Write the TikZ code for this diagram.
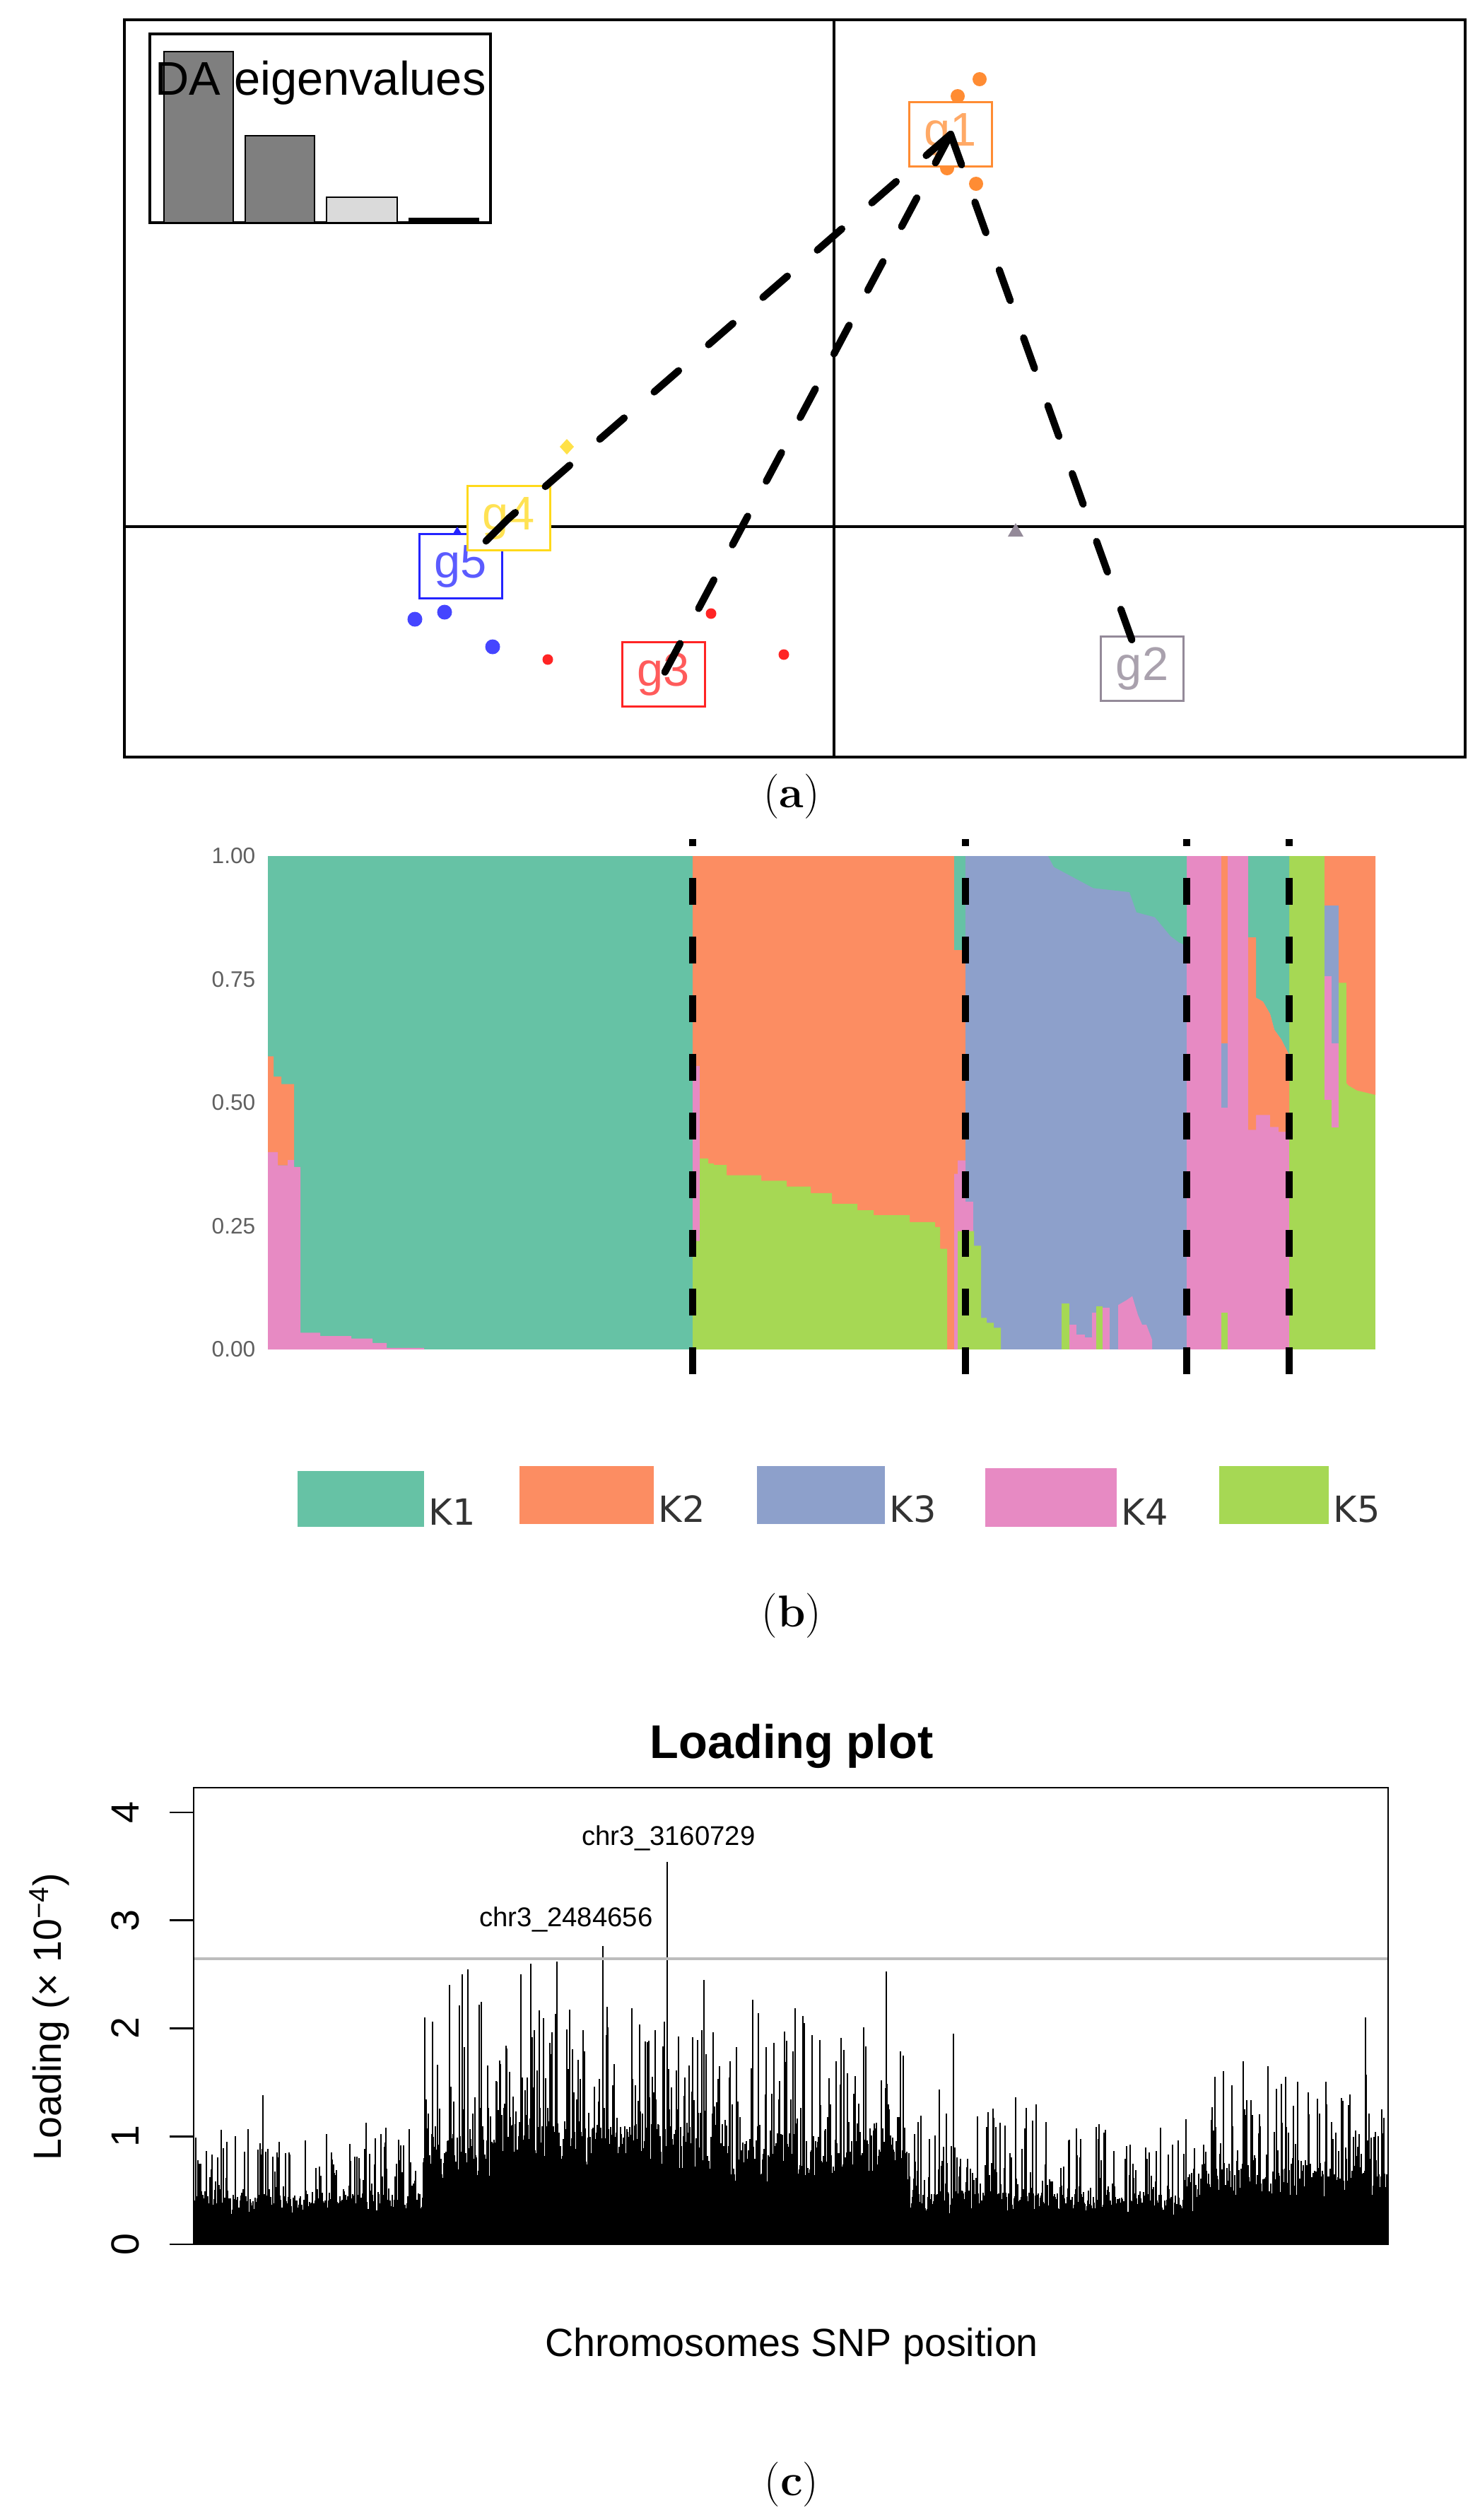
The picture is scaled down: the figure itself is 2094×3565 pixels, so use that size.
\documentclass[tikz,border=0pt]{standalone}
\usepackage{fontspec}
\usepackage{amsmath}
\usepackage{tikz}
\newfontfamily\plotfont{Liberation Sans}
\newfontfamily\legfont{DejaVu Sans}
\definecolor{kone}{HTML}{66C2A5}
\definecolor{ktwo}{HTML}{FC8D62}
\definecolor{kthree}{HTML}{8DA0CB}
\definecolor{kfour}{HTML}{E78AC3}
\definecolor{kfive}{HTML}{A6D854}
\definecolor{gone}{HTML}{FF8C33}
\definecolor{gtwo}{HTML}{948A99}
\definecolor{gthree}{HTML}{FF2424}
\definecolor{gfour}{HTML}{FFD91A}
\definecolor{gfive}{HTML}{2424FF}
\definecolor{eigdark}{HTML}{7F7F7F}
\definecolor{eiglight}{HTML}{DADADA}
\definecolor{thrgrey}{HTML}{BDBDBD}
\definecolor{tickgrey}{HTML}{5F5F5F}

\begin{document}
\begin{tikzpicture}[x=0.01cm, y=-0.01cm,
		grp/.style={draw, fill=white, line width=1.1pt, minimum width=1.17cm, minimum height=0.91cm, inner sep=0pt, font=\plotfont\fontsize{19}{19}\selectfont},
		mst/.style={line width=2.9pt, dash pattern=on 13pt off 16pt, line cap=round},
		cut/.style={line width=2.8pt, dash pattern=on 10.8pt off 12.8pt, dash phase=8pt},
		bar/.style={line width=0.33pt},
		panel/.style={inner sep=0pt, font=\fontsize{18}{18}\selectfont},
		axlab/.style={inner sep=0pt, font=\plotfont\fontsize{15.8}{16}\selectfont}]
	\fill[white] (0,0) rectangle (2094,3565);
	\useasboundingbox (0,0) rectangle (2094,3565);

	% (a) scatter
	\draw[line width=1.1pt] (1180,28) -- (1180,1071);
	\draw[line width=1.1pt] (176,745) -- (2073,745);
	\draw[line width=1.4pt] (176,28) rectangle (2073,1071);
	\draw[line width=1.1pt, fill=white] (212,48) rectangle (694,315);
	\draw[line width=0.8pt, fill=eigdark] (232,315) rectangle (330,73);
	\draw[line width=0.8pt, fill=eigdark] (347,315) rectangle (445,192);
	\draw[line width=0.8pt, fill=eiglight] (462,315) rectangle (562,279);
	\draw[line width=0.8pt, fill=black] (579,315) rectangle (677,309);
	\node[anchor=base west, inner sep=0pt, font=\plotfont\fontsize{19}{19}\selectfont] (eig) at (219,134) {DA eigenvalues};

	\foreach \px/\py in {1386/112, 1355/136, 1340/238, 1381/260}
		\fill[gone] (\px,\py) circle (0.1cm);
	\foreach \px/\py in {587/876, 629/866, 697/915}
		\fill[gfive!85] (\px,\py) circle (0.105cm);
	\foreach \px/\py in {1006/868, 1109/926, 775/933}
		\fill[gthree] (\px,\py) circle (0.075cm);
	\fill[gfour!80] (802,621) -- (812,632) -- (802,643) -- (792,632) -- cycle;
	\fill[gtwo] (1437,740) -- (1448,759) -- (1426,759) -- cycle;
	\fill[gfive] (647,745) -- (656,760) -- (638,760) -- cycle;

	\node[grp, draw=gone, text=gone!75] (g1) at (1345,190) {g1};
	\node[grp, draw=gtwo, text=gtwo!80] (g2) at (1616,946) {g2};
	\node[grp, draw=gthree, text=gthree!75] (g3) at (939,954) {g3};
	\node[grp, draw=gfive, text=gfive!75] (g5) at (652,801) {g5};
	\node[grp, draw=gfour, text=gfour!75] (g4) at (720,733) {g4};

	\draw[mst] (g1.center) -- (g4.center);
	\draw[mst] (g4.center) -- (g5.center);
	\draw[mst] (g1.center) -- (g3.center);
	\draw[mst] (g1.center) -- (g2.center);

	\node[panel] (laba) at (1120,1127) {(\textbf{a})};

	% (b) membership bars
	\begin{scope}[shift={(0,1909)}, yscale=-698]
		\fill[kone] (379,0) rectangle (980,1);
		\fill[ktwo] (980,0) rectangle (1366,1);
		\fill[kthree] (1366,0) rectangle (1679,1);
		\fill[kfour] (1679,0) rectangle (1824,1);
		\fill[kfive] (1824,0) rectangle (1946,1);

		\fill[ktwo] (379,.40) -- (379,.594) -- (387,.594) -- (387,.553) -- (398,.553) -- (398,.538) -- (416,.538) -- (416,.384) -- (407,.384) -- (407,.373) -- (393,.373) -- (393,.40) -- cycle;
		\fill[kfour] (379,0) -- (379,.40) -- (393,.40) -- (393,.373) -- (407,.373) -- (407,.384) -- (416,.384) -- (416,.37) -- (425,.37) -- (425,.034) -- (453,.034) -- (453,.027) -- (497,.027) -- (497,.022) -- (527,.022) -- (527,.013) -- (547,.013) -- (547,.003) -- (600,.003) -- (600,0) -- cycle;

		\fill[kfour] (980,.22) rectangle (990,.574);
		\fill[kfive] (980,0) -- (980,.22) -- (990,.22) -- (990,.387) -- (1002,.387) -- (1002,.377) -- (1010,.377) -- (1010,.374) -- (1028,.374) -- (1028,.353) -- (1077,.353) -- (1077,.342) -- (1113,.342) -- (1113,.33) -- (1147,.33) -- (1147,.317) -- (1177,.317) -- (1177,.295) -- (1213,.295) -- (1213,.282) -- (1236,.282) -- (1236,.272) -- (1287,.272) -- (1287,.258) -- (1323,.258) -- (1323,.248) -- (1330,.248) -- (1330,.204) -- (1340,.204) -- (1340,0) -- cycle;
		\fill[kone] (1350,.81) rectangle (1366,1);
		\fill[kfour] (1350,0) -- (1350,.356) -- (1355,.356) -- (1355,.383) -- (1366,.383) -- (1366,.24) -- (1355,.24) -- (1355,0) -- cycle;
		\fill[kfive] (1355,0) rectangle (1366,.24);

		\fill[kone] (1483,1) -- (1491,.978) -- (1547,.935) -- (1598,.927) -- (1608,.886) -- (1634,.876) -- (1656,.838) -- (1668,.825) -- (1679,.818) -- (1679,1) -- cycle;
		\fill[kfour] (1366,.24) rectangle (1377,.30);
		\fill[kfive] (1366,0) -- (1366,.24) -- (1378,.24) -- (1378,.21) -- (1388,.21) -- (1388,.064) -- (1396,.064) -- (1396,.054) -- (1406,.054) -- (1406,.044) -- (1416,.044) -- (1416,0) -- cycle;
		\fill[kfive] (1502,0) rectangle (1513,.093);
		\fill[kfive] (1551,0) rectangle (1560,.088);
		\fill[kfour] (1513,0) rectangle (1523,.05);
		\fill[kfour] (1523,0) rectangle (1535,.03);
		\fill[kfour] (1535,0) rectangle (1545,.024);
		\fill[kfour] (1545,0) rectangle (1551,.075);
		\fill[kfour] (1560,0) rectangle (1570,.085);
		\fill[kfour] (1582,0) -- (1582,.09) -- (1594,.1) -- (1602,.108) -- (1610,.07) -- (1616,.05) -- (1622,.05) -- (1630,.02) -- (1630,0) -- cycle;

		\fill[ktwo] (1728,.62) rectangle (1737,1);
		\fill[kthree] (1728,.49) rectangle (1737,.62);
		\fill[kfive] (1728,0) rectangle (1737,.075);
		\fill[kone] (1766,1) -- (1766,.835) -- (1777,.835) -- (1777,.713) -- (1787,.705) -- (1797,.68) -- (1803,.648) -- (1813,.628) -- (1824,.597) -- (1824,1) -- cycle;
		\fill[ktwo] (1766,.835) -- (1766,.445) -- (1777,.445) -- (1777,.475) -- (1797,.475) -- (1797,.451) -- (1809,.451) -- (1809,.441) -- (1824,.441) -- (1824,.597) -- (1813,.628) -- (1803,.648) -- (1797,.68) -- (1787,.705) -- (1777,.713) -- (1777,.835) -- cycle;

		\fill[ktwo] (1874,1) -- (1946,1) -- (1946,.516) -- (1920,.525) -- (1908,.535) -- (1905,.54) -- (1905,.743) -- (1894,.743) -- (1894,.9) -- (1874,.9) -- cycle;
		\fill[kthree] (1874,.757) rectangle (1884,.9);
		\fill[kthree] (1884,.62) rectangle (1894,.9);
		\fill[kfour] (1874,.506) rectangle (1884,.757);
		\fill[kfour] (1884,.45) rectangle (1894,.62);
	\end{scope}
	\foreach \xc in {980,1366,1679,1824}
		\draw[cut] (\xc,1187) -- (\xc,1952);
	\foreach \v/\t/\n in {0/0.00/a, 0.25/0.25/b, 0.5/0.50/c, 0.75/0.75/d, 1/1.00/e}
		\node[anchor=east, inner sep=0pt, text=tickgrey, font=\plotfont\fontsize{9}{9}\selectfont] (qtick\n) at (362,1909-698*\v) {\t};

	\foreach \col/\xl/\xr/\yt/\yb/\lab in {kone/421/600/2081/2160/K1, ktwo/735/925/2074/2156/K2, kthree/1071/1252/2074/2156/K3, kfour/1394/1580/2077/2160/K4, kfive/1725/1880/2074/2156/K5}{
		\fill[\col] (\xl,\yt) rectangle (\xr,\yb);
		\node[anchor=base west, inner sep=0pt, text=black!80, font=\legfont\fontsize{14.5}{15}\selectfont] (leg\lab) at (\xr+6,\yb-3) {\lab};
	}
	\node[panel] (labb) at (1120,2286) {(\textbf{b})};

	% (c) loading plot
	\node[anchor=base, inner sep=0pt, font=\plotfont\bfseries\fontsize{19}{19}\selectfont] (title) at (1120,2487) {Loading plot};
	\pgfmathsetseed{4127}
	\foreach \xa/\xb/\base/\amp/\ex in {275/598/0.33/0.7/5, 599/700/0.7/1.5/5, 701/1000/0.8/1.5/5, 1001/1287/0.7/1.45/5, 1288/1480/0.35/1.0/5, 1481/1700/0.32/0.8/5, 1701/1963/0.5/1.05/5}{
		\foreach \xx in {\xa,...,\xb}{
			\pgfmathsetmacro\ra{rnd}
			\pgfmathsetmacro\hh{min(2.45,\base*(0.8+0.6*rnd)+\amp*\ra^\ex)}
			\draw[bar] (\xx,3175) -- (\xx,3175-152.75*\hh);
		}
	}
	\foreach \xx/\hh in {372/1.38, 601/2.1, 654/2.5, 662/2.55, 737/2.5, 751/2.6, 788/2.62, 1254/2.53, 1349/1.95, 1932/2.1, 853/2.76}
		\draw[bar] (\xx,3175) -- (\xx,3175-152.75*\hh);
	\draw[bar, line width=0.6pt] (944,3175) -- (944,2634);
	\draw[thrgrey, line width=0.9pt] (274,2771) -- (1964,2771);
	\draw[line width=0.75pt] (274,2529) rectangle (1964,3175);
	\foreach \v in {0,...,4}{
		\draw[line width=0.75pt] (240,3175-152.75*\v) -- (274,3175-152.75*\v);
		\node[axlab, rotate=90] (ltick\v) at (177,3175-152.75*\v) {\v};
	}
	\node[inner sep=0pt, font=\plotfont\fontsize{10.9}{11}\selectfont] (peaktwo) at (801,2715) {chr3\_2484656};
	\node[inner sep=0pt, font=\plotfont\fontsize{10.9}{11}\selectfont] (peakone) at (946,2600) {chr3\_3160729};
	\node[axlab, rotate=90] (ylab) at (70,2853) {Loading (× 10\textsuperscript{−4})};
	\node[axlab, anchor=base] (xlab) at (1120,3333) {Chromosomes SNP position};
	\node[panel] (labc) at (1120,3515) {(\textbf{c})};
\end{tikzpicture}
\end{document}
